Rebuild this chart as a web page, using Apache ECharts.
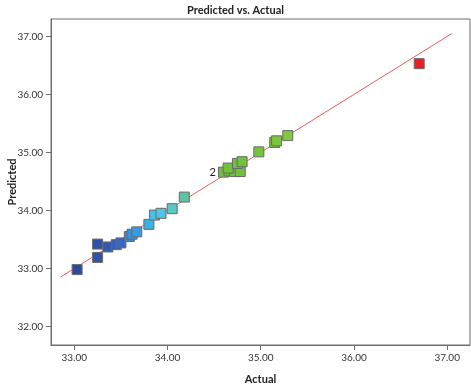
<!DOCTYPE html>
<html><head><meta charset="utf-8">
<script src="https://cdn.jsdelivr.net/npm/echarts@6/dist/echarts.min.js"></script>
<style>html,body{margin:0;padding:0;background:#fff}#c{width:471px;height:384px}</style>
</head><body><div id="c"></div>
<script>
const actual    = [33.03, 33.25, 33.25, 33.36, 33.45, 33.50, 33.59, 33.62, 33.67, 33.80, 33.86, 33.93, 34.05, 34.18, 34.60, 34.66, 34.72, 34.78, 34.65, 34.75, 34.80, 34.98, 35.15, 35.17, 35.29, 36.70];
const predicted = [32.98, 33.19, 33.42, 33.37, 33.41, 33.44, 33.55, 33.59, 33.63, 33.76, 33.92, 33.95, 34.03, 34.23, 34.66, 34.68, 34.67, 34.67, 34.73, 34.81, 34.84, 35.01, 35.17, 35.20, 35.29, 36.53];
const pointColors = ['#2B4A9E','#2F52AA','#2F52AA','#3358B2','#355FBA','#3866C0','#3A86D4','#3B92DA','#3B9ADE','#3AB2E6','#48C0E8','#50C4E4','#5CC6C4','#5FC2A2','#6EC23C','#6EC23C','#6EC23C','#6EC23C','#6EC23C','#6EC23C','#6EC23C','#74C43C','#7AC63C','#7AC63C','#80C83C','#EE1C24'];
const pointLabels = ['','','','','','','','','','','','','','','2','','','','','','','','','','',''];
const xTicks = [33, 34, 35, 36, 37];
const yTicks = [32, 33, 34, 35, 36, 37];
const fitLine = [[32.85, 32.85], [37.05, 37.05]];

const font = 'Lato, "Open Sans", sans-serif';
const pts = actual.map((a, i) => ({
  value: [a, predicted[i]],
  itemStyle: { color: pointColors[i] },
  label: pointLabels[i] ? { show: true, formatter: pointLabels[i], position: 'left', distance: 2, color: '#222', fontSize: 11, fontFamily: font } : { show: false }
}));
const chart = echarts.init(document.getElementById('c'));
chart.setOption({
  animation: false,
  title: { text: 'Predicted vs. Actual', left: 'center', top: 0, textStyle: { fontSize: 11, fontWeight: 'bold', color: '#222', fontFamily: font } },
  grid: { left: 51, right: 1, top: 19, bottom: 39, outerBoundsMode: 'none', containLabel: false, show: true, borderColor: '#6e6e6e', borderWidth: 1, backgroundColor: 'transparent' },
  xAxis: {
    type: 'value', min: 32.75, max: 37.245,
    name: 'Actual', nameLocation: 'middle', nameGap: 29, nameMoveOverlap: false,
    nameTextStyle: { fontSize: 11, fontWeight: 'bold', color: '#222', fontFamily: font },
    axisLine: { show: true, onZero: false, lineStyle: { color: '#6e6e6e' } },
    axisTick: { show: true, length: 5, customValues: xTicks, lineStyle: { color: '#6e6e6e' } },
    axisLabel: { customValues: xTicks, formatter: v => v.toFixed(2), fontSize: 10, color: '#333', fontFamily: font, margin: 8 },
    splitLine: { show: false }
  },
  yAxis: {
    type: 'value', min: 31.68, max: 37.30,
    name: 'Predicted', nameLocation: 'middle', nameGap: 33, nameRotate: 90, nameMoveOverlap: false,
    nameTextStyle: { fontSize: 11, fontWeight: 'bold', color: '#222', fontFamily: font },
    axisLine: { show: true, onZero: false, lineStyle: { color: '#6e6e6e' } },
    axisTick: { show: true, length: 5, customValues: yTicks, lineStyle: { color: '#6e6e6e' } },
    axisLabel: { customValues: yTicks, formatter: v => v.toFixed(2), fontSize: 10, color: '#333', fontFamily: font, margin: 8 },
    splitLine: { show: false }
  },
  series: [
    { type: 'line', data: fitLine, symbol: 'none', lineStyle: { color: '#F2595A', width: 1 }, z: 1, silent: true },
    { type: 'scatter', data: pts, symbol: 'rect', symbolSize: 10, itemStyle: { borderColor: '#6a6a6a', borderWidth: 1, opacity: 1 }, z: 2 }
  ]
});
</script></body></html>
